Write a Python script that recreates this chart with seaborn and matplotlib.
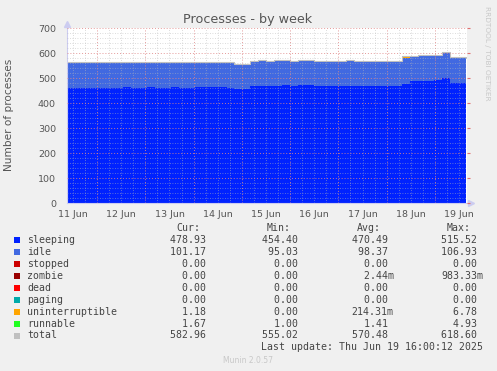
import numpy as np
import pandas as pd
import matplotlib
matplotlib.use("Agg")
import matplotlib.pyplot as plt
import seaborn as sns
from matplotlib.patches import Rectangle
from matplotlib.ticker import MultipleLocator, FixedLocator, FuncFormatter, NullFormatter

# ---------------- data ----------------
sleeping = [462, 461, 463, 462, 463, 461, 462, 464, 462, 463, 464, 462, 463, 464, 462, 463, 464,
            465, 464, 465, 463, 457, 459, 470, 471, 470, 471, 472, 470, 472, 473, 471, 470, 469,
            468, 470, 471, 469, 470, 468, 469, 471, 476, 488, 489, 491, 492, 500, 483, 481, 478.93]
idle = [101, 102, 100, 101, 100, 102, 101, 99, 101, 100, 99, 101, 100, 99, 101, 100, 100,
        99, 100, 99, 101, 98, 97, 100, 99, 100, 99, 98, 100, 99, 98, 97, 99, 98,
        99, 100, 99, 98, 99, 98, 99, 98, 106, 101, 102, 101, 100, 103, 102, 102, 101.17]
stopped = [0.0] * 51
zombie = [0.0] * 51
dead = [0.0] * 51
paging = [0.0] * 51
uninterruptible = [0, 0, 0.5, 0, 0, 0, 0, 0, 0, 0.4, 0, 0, 0, 0, 0.3, 0, 0, 0, 0, 0, 0, 0, 0.6,
                   0, 0, 0, 0, 0.5, 0, 0, 0, 0, 0, 0, 0.8, 0, 0, 0, 0, 0, 0, 0, 2.5, 0, 0, 0.4,
                   0, 0, 0, 0, 1.18]
runnable = [1.2, 1.5, 2.8, 1.1, 1.3, 1.0, 1.8, 1.2, 1.4, 3.5, 1.1, 1.3, 1.2, 1.6, 2.4, 1.0, 1.3,
            1.2, 1.5, 1.1, 1.4, 1.3, 2.2, 1.2, 1.4, 1.1, 1.3, 1.9, 1.2, 1.0, 1.5, 1.3, 1.2, 1.1,
            2.6, 1.3, 1.2, 1.4, 1.1, 1.3, 1.2, 1.6, 4.9, 1.3, 1.2, 1.8, 1.4, 1.2, 1.3, 1.5, 1.67]

series_names = ["sleeping", "idle", "stopped", "zombie", "dead", "paging",
                "uninterruptible", "runnable", "total"]
series_colors = ["#0022ff", "#4169e1", "#cc0000", "#990000", "#ff0000", "#00aaaa",
                 "#ffa500", "#22ff22", "#c0c0c0"]
cur_vals = ["478.93 ", "101.17 ", "  0.00 ", "  0.00 ", "  0.00 ", "  0.00 ", "  1.18 ", "  1.67 ", "582.96 "]
min_vals = ["454.40 ", " 95.03 ", "  0.00 ", "  0.00 ", "  0.00 ", "  0.00 ", "  0.00 ", "  1.00 ", "555.02 "]
avg_vals = ["470.49 ", " 98.37 ", "  0.00 ", "  2.44m", "  0.00 ", "  0.00 ", "214.31m", "  1.41 ", "570.48 "]
max_vals = ["515.52 ", "106.93 ", "  0.00 ", "983.33m", "  0.00 ", "  0.00 ", "  6.78 ", "  4.93 ", "618.60 "]

day_labels = ["11 Jun", "12 Jun", "13 Jun", "14 Jun", "15 Jun", "16 Jun", "17 Jun", "18 Jun", "19 Jun"]
label_days = [11.5, 12.5, 13.5, 14.5, 15.5, 16.5, 17.5, 18.5, 19.5]

t_start, t_end = 11.376, 19.64
x_left, x_right = 11.376, 19.655
t = np.linspace(t_start, t_end, len(sleeping))

# ---------------- figure ----------------
sns.set_style("white")
plt.rcParams["font.family"] = ["DejaVu Sans"]

W, H = 497, 371
fig = plt.figure(figsize=(W / 100, H / 100), dpi=100, facecolor="#f0f0f0")
ax_w = 466.5 - 67
ax = fig.add_axes([67 / W, 1 - 203.3 / H, ax_w / W, (203.3 - 28.3) / H])
ax.set_facecolor("white")

stack = [sleeping, idle, stopped, zombie, dead, paging, uninterruptible, runnable]
base = np.zeros(len(t))
for vals, col in zip(stack, series_colors[:8]):
    v = np.asarray(vals, dtype=float)
    ax.fill_between(t, base, base + v, step="post", color=col, linewidth=0, zorder=1)
    base = base + v

df = pd.DataFrame({"t": t, "total": base})
sns.lineplot(data=df, x="t", y="total", drawstyle="steps-post", color="#c0c0c0",
             linewidth=0.8, ax=ax, zorder=1.5)

ax.set_xlim(x_left, x_right)
ax.set_ylim(0, 700)
ax.set_xlabel("")
ax.set_ylabel("Number of processes", fontsize=7.6, color="#555555")
ax.yaxis.set_label_coords((14.5 - 67) / ax_w, 0.505)

# grid / ticks
ax.yaxis.set_major_locator(MultipleLocator(100))
ax.yaxis.set_minor_locator(MultipleLocator(20))
ax.xaxis.set_major_locator(FixedLocator(np.arange(12, 20)))
ax.xaxis.set_minor_locator(FixedLocator(np.arange(11.5, 19.6, 0.25)))
ax.xaxis.set_major_formatter(NullFormatter())
lab_map = {round(d, 2): l for d, l in zip(label_days, day_labels)}
ax.xaxis.set_minor_formatter(FuncFormatter(lambda v, p: lab_map.get(round(v, 2), "")))

ax.set_axisbelow(False)
ax.grid(which="major", color="#e08888", linestyle=(0, (1, 2)), linewidth=0.7, alpha=0.85)
ax.grid(which="minor", color="#b8b8b8", linestyle=(0, (1, 2)), linewidth=0.6, alpha=0.65)

ax.tick_params(axis="x", which="major", length=3, color="#e07070", width=0.8, labelbottom=False)
ax.tick_params(axis="x", which="minor", length=0, labelsize=6.8, labelcolor="#555555", pad=4.5)
ax.tick_params(axis="y", which="major", left=False, right=True, length=2, color="#e07070",
               labelsize=6.8, labelcolor="#555555", pad=6)
ax.tick_params(axis="y", which="minor", left=False, right=False)

for s in ["top", "right"]:
    ax.spines[s].set_visible(False)
for s in ["left", "bottom"]:
    ax.spines[s].set_color("#ccccf0")
    ax.spines[s].set_linewidth(0.8)

# axis arrows
ax.plot([0], [1.025], marker="^", color="#ccccf0", markersize=5, transform=ax.transAxes, clip_on=False)
ax.plot([1.012], [0], marker=">", color="#ccccf0", markersize=5, transform=ax.transAxes, clip_on=False)

# title
fig.text(248 / W, 1 - 19.3 / H, "Processes - by week", ha="center", va="center",
         fontsize=9.2, color="#555555")
fig.text(487 / W, 1 - 53 / H, "RRDTOOL / TOBI OETIKER", ha="center", va="center",
         rotation=270, fontsize=5.3, color="#c8c8c8")

# legend table
mono = dict(family="DejaVu Sans Mono", fontsize=7.1, color="#444444", va="center")


def fy(y):
    return 1 - y / H


headers = [("Cur:", 176), ("Min:", 267), ("Avg:", 357), ("Max:", 447)]
for txt, x in headers:
    fig.text(x / W, fy(228.3), txt, ha="left", **mono)

col_starts = [170, 262, 351.5, 441]
for i, (name, col) in enumerate(zip(series_names, series_colors)):
    y = 240.3 + i * 11.9
    fig.patches.append(Rectangle((14 / W, fy(y + 3)), 6 / W, 6 / H, transform=fig.transFigure,
                                 facecolor=col, edgecolor="none"))
    fig.text(27 / W, fy(y), name, ha="left", **mono)
    for vals, xs in zip([cur_vals, min_vals, avg_vals, max_vals], col_starts):
        fig.text(xs / W, fy(y), vals[i], ha="left", **mono)

fig.text(483 / W, fy(347.3), "Last update: Thu Jun 19 16:00:12 2025", ha="right", **mono)
fig.text(248 / W, fy(360.5), "Munin 2.0.57", ha="center", va="center", fontsize=5.5,
         color="#c8c8c8")

fig.savefig("out.png", dpi=100, facecolor=fig.get_facecolor())
